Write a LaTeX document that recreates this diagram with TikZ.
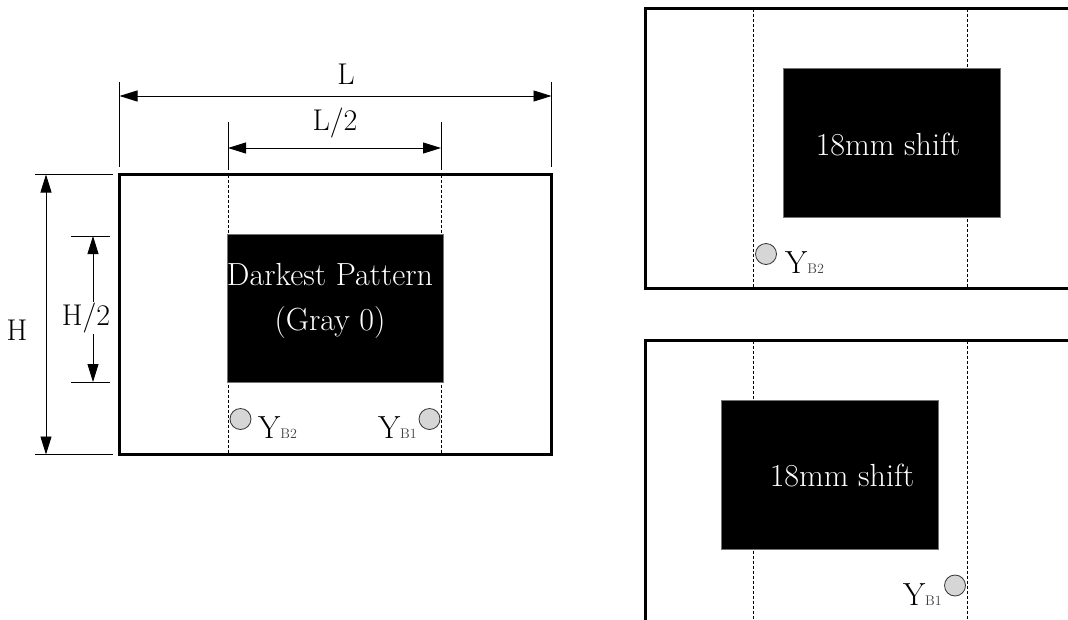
\documentclass[tikz,border=0pt]{standalone}
\usepackage{tikz}
\usetikzlibrary{calc, arrows.meta}

\tikzset{
  frame/.style={draw, line width=2.6pt},
  guide/.style={draw, line width=0.7pt, dash pattern=on 3pt off 2pt},
  darkbox/.style={fill=black, draw=black!55, line width=0.6pt},
  dimline/.style={line width=0.9pt, {Triangle[length=18pt,width=11pt]}-{Triangle[length=18pt,width=11pt]}},
  extline/.style={line width=0.9pt},
  probe/.style={circle, draw=black!80, fill=black!16, line width=0.8pt, minimum size=21pt, inner sep=0pt},
  bigtext/.style={font=\fontsize{32}{45}\selectfont, text=white, align=center},
  dimtext/.style={font=\fontsize{30}{32}\selectfont, inner sep=2pt},
  ylabel/.style={inner sep=0pt}
}
\newcommand{\yb}[1]{{\fontsize{32}{32}\selectfont Y}{\fontsize{14}{14}\selectfont\color{black!75}#1}}

\begin{document}
\begin{tikzpicture}[x=1pt, y=-1pt]
\useasboundingbox (0,0) rectangle (1068,619);
\clip (0,0) rectangle (1068,619);

% left sheet
\draw[guide] (228,174.5) -- (228,454.5);
\draw[guide] (441.5,174.5) -- (441.5,454.5);
\draw[darkbox] (227,234) rectangle (443.5,382.5);
\draw[frame] (119.5,174.5) rectangle (551.5,454.5);
\node[bigtext] (a) at (330,301) {Darkest Pattern\\(Gray 0)};

\node[probe] (b2) at (240.5,419) {};
\node[probe] (b1) at (429.5,419) {};
\node[ylabel, anchor=base west] (yb2) at (258,438) {\yb{B2}};
\node[ylabel, anchor=base east] (yb1) at (417,438) {\yb{B1}};

% dimensions
\coordinate (l1) at (119.5,96);
\coordinate (l2) at (551.5,96);
\draw[extline] (119.5,82) -- (119.5,167);
\draw[extline] (551.5,82) -- (551.5,167);
\draw[dimline] (l1) -- (l2);
\node[dimtext] (l) at (346,74) {L};

\coordinate (h1) at (228,148);
\coordinate (h2) at (441,148);
\draw[extline] (228,122) -- (228,170);
\draw[extline] (441,122) -- (441,170);
\draw[dimline] (h1) -- (h2);
\node[dimtext] (lh) at (335,123) {L/2};

\coordinate (v1) at (46,174.5);
\coordinate (v2) at (46,454.5);
\draw[extline] (35,174.5) -- (113,174.5);
\draw[extline] (35,454.5) -- (113,454.5);
\draw[dimline] (v1) -- (v2);
\node[dimtext] (hh) at (17,330) {H};

\coordinate (w1) at (93,236);
\coordinate (w2) at (93,382);
\draw[extline] (71,236) -- (110,236);
\draw[extline] (71,382) -- (110,382);
\draw[dimline] (w1) -- (w2);
\node[dimtext, fill=white, inner sep=1pt] (hw) at (86,318) {H/2};

% shifted sheet, upper
\draw[guide] (753,8.8) -- (753,288);
\draw[guide] (967,8.8) -- (967,288);
\draw[darkbox] (783,68) rectangle (1000,217);
\draw[frame, line width=3pt] (645.5,8.8) rectangle (1090,288);
\node[bigtext] (c) at (888,145) {18mm shift};
\node[probe] (c2) at (766,254) {};
\node[ylabel, anchor=base west] (yc2) at (785,273) {\yb{B2}};

% shifted sheet, lower
\draw[guide] (753,340.5) -- (753,640);
\draw[guide] (967,340.5) -- (967,640);
\draw[darkbox] (721,400.5) rectangle (938.5,549);
\draw[frame, line width=3pt] (645.5,340.5) rectangle (1090,660);
\node[bigtext] (d) at (842,476) {18mm shift};
\node[probe] (d1) at (955,585.5) {};
\node[ylabel, anchor=base east] (yd1) at (942,605) {\yb{B1}};
\end{tikzpicture}
\end{document}
